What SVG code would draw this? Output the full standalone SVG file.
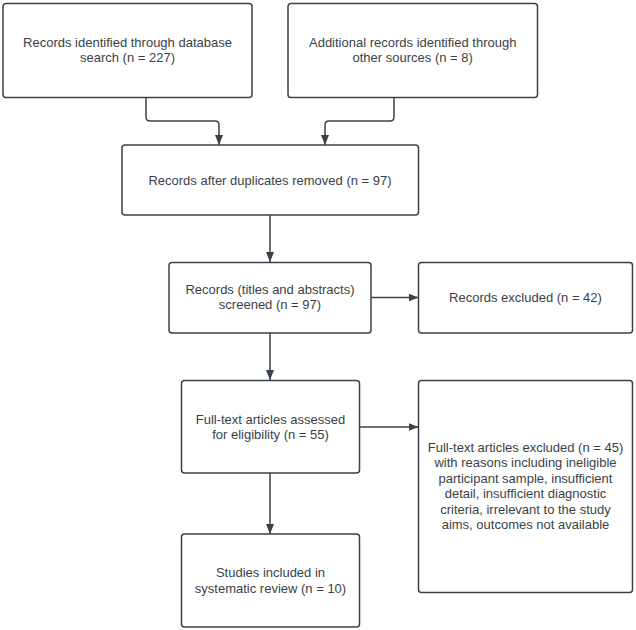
<svg xmlns="http://www.w3.org/2000/svg" width="636" height="630" viewBox="0 0 636 630">
<style>
.box{fill:#fff;stroke:#3a414a;stroke-width:1.5}
.t{font-family:"Liberation Sans",Arial,sans-serif;font-size:13px;fill:#3a3f47;text-anchor:middle;dominant-baseline:central}
.c{fill:none;stroke:#3a414a;stroke-width:1.5}
</style>
<defs>
<marker id="ah" viewBox="0 0 10 10" refX="10" refY="5" markerWidth="10" markerHeight="10" markerUnits="userSpaceOnUse" orient="auto">
<path d="M0,1 L10,5 L0,9 Z" fill="#3a414a"/>
</marker>
</defs>
<rect width="636" height="630" fill="#fff"/>
<g id="connectors">
<path class="c" d="M146,98 V117 Q146,121 150,121 H215 Q219,121 219,125 V145" marker-end="url(#ah)"/>
<path class="c" d="M394,98 V117 Q394,121 390,121 H329 Q325,121 325,125 V145" marker-end="url(#ah)"/>
<path class="c" d="M270,215 V262" marker-end="url(#ah)"/>
<path class="c" d="M371,297.5 H418.5" marker-end="url(#ah)"/>
<path class="c" d="M270,333 V380" marker-end="url(#ah)"/>
<path class="c" d="M359,427 H418.5" marker-end="url(#ah)"/>
<path class="c" d="M270,473 V534" marker-end="url(#ah)"/>
</g>
<g id="n1">
<rect class="box" x="3" y="3.5" width="249" height="94" rx="3"/>
<text class="t" x="127.5" y="42">Records identified through database</text>
<text class="t" x="127.5" y="57.5">search (n = 227)</text>
</g>
<g id="n2">
<rect class="box" x="288" y="3.5" width="249.5" height="94" rx="3"/>
<text class="t" x="412.7" y="42">Additional records identified through</text>
<text class="t" x="412.7" y="57.5">other sources (n = 8)</text>
</g>
<g id="n3">
<rect class="box" x="122" y="145" width="296.5" height="70" rx="3"/>
<text class="t" x="270" y="180">Records after duplicates removed (n = 97)</text>
</g>
<g id="n4">
<rect class="box" x="169" y="262.5" width="202" height="70.5" rx="3"/>
<text class="t" x="270" y="289">Records (titles and abstracts)</text>
<text class="t" x="270" y="304">screened (n = 97)</text>
</g>
<g id="n5">
<rect class="box" x="418.5" y="262.5" width="214" height="70.5" rx="3"/>
<text class="t" x="525.5" y="297">Records excluded (n = 42)</text>
</g>
<g id="n6">
<rect class="box" x="181.5" y="380.5" width="178" height="92.5" rx="3"/>
<text class="t" x="270.5" y="419">Full-text articles assessed</text>
<text class="t" x="270.5" y="434.5">for eligibility (n = 55)</text>
</g>
<g id="n7">
<rect class="box" x="418.5" y="380.5" width="214" height="212" rx="3"/>
<text class="t" x="525.5" y="447">Full-text articles excluded (n = 45)</text>
<text class="t" x="525.5" y="462.5">with reasons including ineligible</text>
<text class="t" x="525.5" y="478">participant sample, insufficient</text>
<text class="t" x="525.5" y="493.5">detail, insufficient diagnostic</text>
<text class="t" x="525.5" y="509">criteria, irrelevant to the study</text>
<text class="t" x="525.5" y="524.5">aims, outcomes not available</text>
</g>
<g id="n8">
<rect class="box" x="181.5" y="534" width="178" height="93" rx="3"/>
<text class="t" x="270.5" y="572">Studies included in</text>
<text class="t" x="270.5" y="588">systematic review (n = 10)</text>
</g>
</svg>
